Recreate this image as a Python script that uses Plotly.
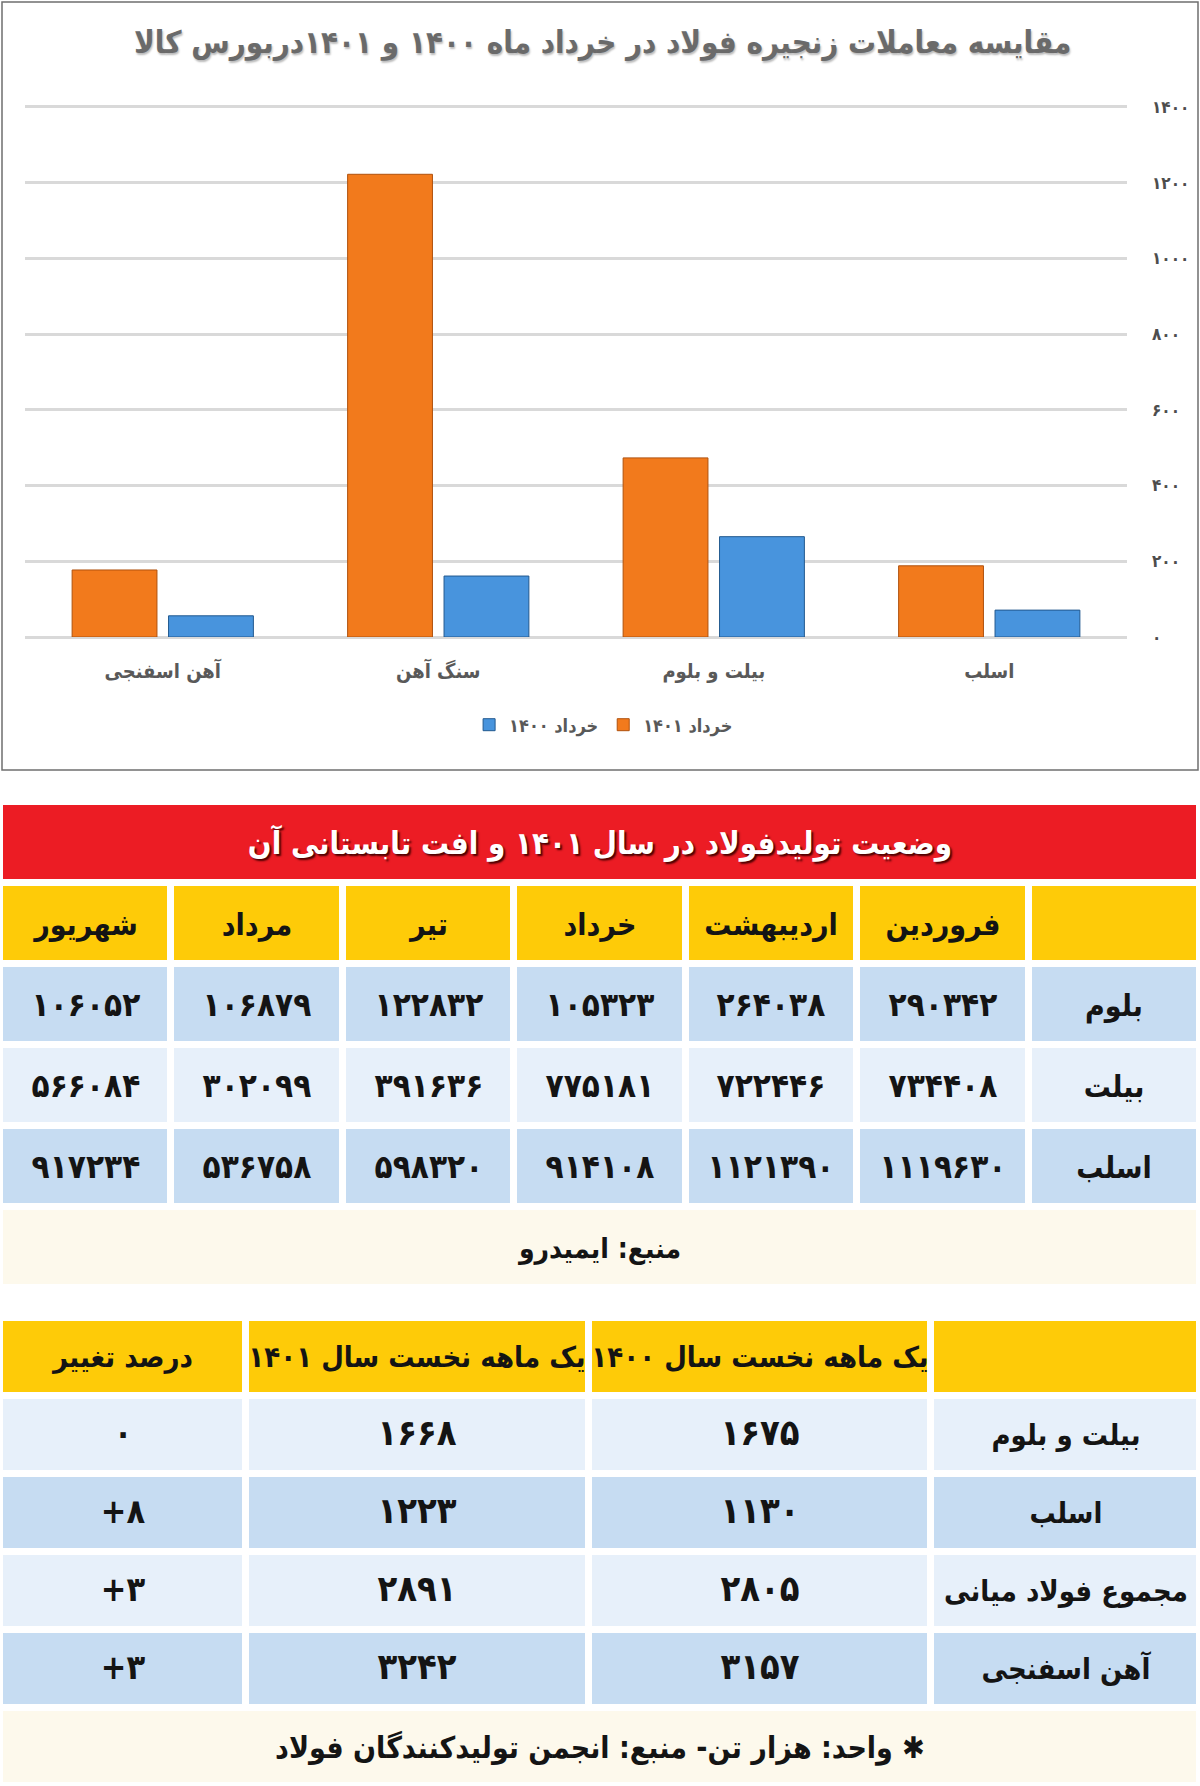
import numpy as np
import plotly.graph_objects as go

W, H = 1200, 1786
FONT = "DejaVu Sans Condensed, DejaVu Sans, sans-serif"

# ---------------- chart data ----------------
chart_title = "مقایسه معاملات زنجیره فولاد در خرداد ماه ۱۴۰۰ و ۱۴۰۱دربورس کالا"
categories = ["آهن اسفنجی", "سنگ آهن", "بیلت و بلوم", "اسلب"]
series_names = ["خرداد ۱۴۰۱", "خرداد ۱۴۰۰"]
khordad_1401 = [177, 1222, 473, 188]
khordad_1400 = [56, 161, 265, 71]
y_ticks = [0, 200, 400, 600, 800, 1000, 1200, 1400]

# ---------------- table 1 data ----------------
t1_title = "وضعیت تولیدفولاد در سال ۱۴۰۱ و افت تابستانی آن"
months = ["فروردین", "اردیبهشت", "خرداد", "تیر", "مرداد", "شهریور"]
products = ["بلوم", "بیلت", "اسلب"]
bloom = [290342, 264038, 105323, 122832, 106879, 106052]
billet = [734408, 722446, 775181, 391636, 302099, 566084]
slab = [1119630, 1121390, 914108, 598320, 536758, 917234]
t1_source = "منبع: ایمیدرو"

# ---------------- table 2 data ----------------
t2_headers = ["یک ماهه نخست سال ۱۴۰۰", "یک ماهه نخست سال ۱۴۰۱", "درصد تغییر"]
t2_items = ["بیلت و بلوم", "اسلب", "مجموع فولاد میانی", "آهن اسفنجی"]
first_month_1400 = [1675, 1130, 2805, 3157]
first_month_1401 = [1668, 1223, 2891, 3242]
change_pct = [0, 8, 3, 3]
t2_note = "واحد: هزار تن- منبع: انجمن تولیدکنندگان فولاد ✱"

# ---------------- helpers ----------------
FA = str.maketrans("0123456789", "۰۱۲۳۴۵۶۷۸۹")


def fa(n):
    return str(n).translate(FA)


def pct(n):
    return ("+" if n > 0 else "") + fa(n)


def big(s, size):
    return "<span style='font-size:%dpx'>%s</span>" % (size, s)


def px_x(p):
    return p / W


def px_y(p):
    return 1 - p / H


RED, YEL, DBLUE, LBLUE, CREAM = "#EC1C24", "#FECB08", "#C6DCF2", "#E7F0FA", "#FDF9EC"
cscale = [[0, RED], [0.125, RED], [0.125, YEL], [0.375, YEL], [0.375, DBLUE],
          [0.625, DBLUE], [0.625, LBLUE], [0.875, LBLUE], [0.875, CREAM], [1, CREAM]]
C_RED, C_YEL, C_DB, C_LB, C_CR = 0, 1, 2, 3, 4

fig = go.Figure()

# ---------------- bar chart ----------------
fig.add_trace(go.Bar(
    x=categories, y=khordad_1401, name="<b>" + series_names[0] + "</b>",
    marker=dict(color="#F27A1C", line=dict(color="#B0520E", width=1)),
    hoverinfo="skip"))
fig.add_trace(go.Bar(
    x=categories, y=khordad_1400, name="<b>" + series_names[1] + "</b>",
    marker=dict(color="#4894DD", line=dict(color="#22598F", width=1)),
    hoverinfo="skip"))

# ---------------- table 1 (heatmap cells) ----------------
GAP = 7
common = dict(colorscale=cscale, zmin=0, zmax=4, showscale=False, xgap=GAP, ygap=GAP,
              hoverinfo="skip", texttemplate="<b>%{text}</b>", xaxis="x2")

# columns displayed right-to-left: label column on the right
t1_cols = months[::-1]
t1_rows = [bloom, billet, slab]
t1_edges = np.linspace(0, 1, len(months) + 2)

fig.add_trace(go.Heatmap(
    x=[0, 1], y=[0, 1], z=[[C_RED]], text=[[t1_title]], yaxis="y2",
    textfont=dict(family=FONT, size=31, color="white", shadow="2px 2px 2px #4a0000"),
    **common))

t1_z = [[C_YEL] * (len(months) + 1)]
t1_text = [t1_cols + [""]]
for i, (name, vals) in enumerate(zip(products, t1_rows)):
    t1_z.append([C_DB if i % 2 == 0 else C_LB] * (len(months) + 1))
    t1_text.append([big(fa(v), 33) for v in vals[::-1]] + [name])
fig.add_trace(go.Heatmap(
    x=t1_edges, y=np.arange(1, len(t1_z) + 2), z=t1_z, text=t1_text, yaxis="y2",
    textfont=dict(family=FONT, size=30, color="#141414"),
    **common))

fig.add_trace(go.Heatmap(
    x=[0, 1], y=[5, 6], z=[[C_CR]], text=[[t1_source]], yaxis="y2",
    textfont=dict(family=FONT, size=28, color="#141414"),
    **common))

# ---------------- table 2 (heatmap cells) ----------------
t2_widths = np.array([246, 343, 343, 269], dtype=float)
t2_edges = np.concatenate([[0], np.cumsum(t2_widths) / t2_widths.sum()])

t2_z = [[C_YEL] * 4]
t2_text = [t2_headers[::-1] + [""]]
for i, name in enumerate(t2_items):
    t2_z.append([C_LB if i % 2 == 0 else C_DB] * 4)
    t2_text.append([big(pct(change_pct[i]), 34), big(fa(first_month_1401[i]), 36),
                    big(fa(first_month_1400[i]), 36), name])
fig.add_trace(go.Heatmap(
    x=t2_edges, y=np.arange(0, len(t2_z) + 1), z=t2_z, text=t2_text, yaxis="y3",
    textfont=dict(family=FONT, size=29, color="#141414"),
    **common))

fig.add_trace(go.Heatmap(
    x=[0, 1], y=[5, 6], z=[[C_CR]], text=[[t2_note]], yaxis="y3",
    textfont=dict(family=FONT, size=30, color="#141414"),
    **common))

# ---------------- layout ----------------
fig.update_layout(
    width=W, height=H,
    margin=dict(l=0, r=0, t=0, b=0, pad=0, autoexpand=False),
    paper_bgcolor="white", plot_bgcolor="white",
    font=dict(family=FONT, color="#595959"),
    barmode="group", bargap=0.3, bargroupgap=0.12,
    showlegend=True,
    legend=dict(orientation="h", x=0.503, y=px_y(725), xanchor="center", yanchor="middle",
                traceorder="reversed", font=dict(size=18, color="#595959"),
                itemwidth=30),
    xaxis=dict(domain=[px_x(25), px_x(1127)], anchor="y", showgrid=False,
               showline=False, ticks="", tickfont=dict(size=20, color="#595959", weight="bold"),
               ticklabelstandoff=20, fixedrange=True),
    yaxis=dict(domain=[px_y(637), px_y(105)], anchor="x", side="right",
               range=[0, 1405], tickvals=y_ticks, ticktext=[fa(v) for v in y_ticks],
               showgrid=True, gridcolor="#D9D9D9", gridwidth=3,
               zeroline=True, zerolinecolor="#D9D9D9", zerolinewidth=3,
               showline=False, ticks="", tickfont=dict(size=17, color="#4d4d4d", weight="bold"),
               ticklabelstandoff=24, fixedrange=True),
    xaxis2=dict(domain=[0, 1], anchor="y2", range=[0, 1], visible=False, fixedrange=True),
    yaxis2=dict(domain=[px_y(1288), px_y(802)], anchor="x2", range=[6, 0],
                visible=False, fixedrange=True),
    yaxis3=dict(domain=[0, px_y(1318)], anchor="x2", range=[6, 0],
                visible=False, fixedrange=True),
    annotations=[dict(text="<b>" + chart_title + "</b>", xref="paper", yref="paper",
                      x=0.5025, y=px_y(43), xanchor="center", yanchor="middle",
                      showarrow=False,
                      font=dict(size=31, color="#6a6a6a", shadow="1px 2px 2px #bbbbbb"))],
    shapes=[dict(type="rect", xref="paper", yref="paper",
                 x0=px_x(2), x1=px_x(1198), y0=px_y(770), y1=px_y(2),
                 line=dict(color="#6f6f6f", width=1.5), layer="below")],
)

fig.write_html("out.html", config={"displayModeBar": False},
               post_script="document.body.style.margin='0';document.body.style.overflow='hidden';")
